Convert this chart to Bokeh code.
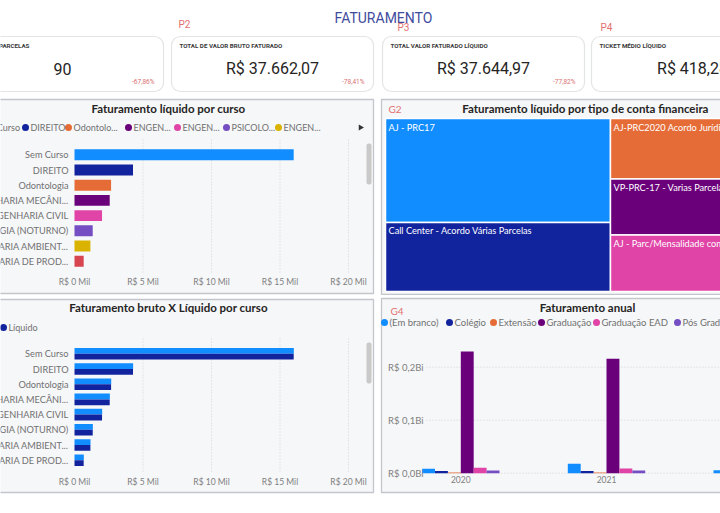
from bokeh.plotting import figure
from bokeh.layouts import column, row
from bokeh.models import Range1d, LinearAxis, FixedTicker, CustomJSTickFormatter, BoxAnnotation
from bokeh.core.properties import value
from bokeh.embed import file_html
from bokeh.resources import INLINE
import math

# ---------------- data ----------------
kpi_labels = ["TOTAL DE PARCELAS", "TOTAL DE VALOR BRUTO FATURADO",
              "TOTAL VALOR FATURADO LÍQUIDO", "TICKET MÉDIO LÍQUIDO"]
kpi_values = ["90", "R$ 37.662,07", "R$ 37.644,97", "R$ 418,28"]
kpi_deltas = ["-67,86%", "-78,41%", "-77,82%", ""]

cursos = ["Sem Curso", "DIREITO", "Odontologia", "ENGENHARIA MECÂNI...",
          "ENGENHARIA CIVIL", "PSICOLOGIA (NOTURNO)", "ENGENHARIA AMBIENT...",
          "ENGENHARIA DE PROD..."]
liquido_mil = [16.0, 4.27, 2.67, 2.57, 2.01, 1.33, 1.16, 0.67]
bruto_mil = [16.01, 4.28, 2.68, 2.58, 2.02, 1.34, 1.17, 0.68]
legend1_labels = ["Sem Curso", "DIREITO", "Odontolo...", "ENGEN...", "ENGEN...",
                  "PSICOLO...", "ENGEN..."]
x_ticks_mil = [0, 5, 10, 15, 20]

contas = ["AJ - PRC17", "Call Center - Acordo Várias Parcelas",
          "AJ-PRC2020 Acordo Jurídico", "VP-PRC-17 - Varias Parcelas",
          "AJ - Parc/Mensalidade com"]
contas_valor = [12694, 8425, 5782, 5349, 5395]

anos = ["2020", "2021", "2022"]
segmentos = ["(Em branco)", "Colégio", "Extensão", "Graduação", "Graduação EAD", "Pós Graduação"]
em_branco = [8.3, 17.7, 5.7]      # R$ milhões
colegio = [4.0, 4.0, 3.0]
extensao = [1.5, 1.5, 1.0]
graduacao = [229.6, 215.8, 190.0]
graduacao_ead = [10.2, 8.9, 7.0]
pos_graduacao = [5.1, 5.1, 4.0]
y_ticks_mi = [0, 100, 200]

# ---------------- style ----------------
C_BLUE, C_NAVY, C_ORANGE, C_PURPLE = "#118DFF", "#12239E", "#E66C37", "#6B007B"
C_PINK, C_VIOLET, C_YELLOW, C_RED = "#E044A7", "#744EC2", "#D9B300", "#D64550"
curso_colors = [C_BLUE, C_NAVY, C_ORANGE, C_PURPLE, C_PINK, C_VIOLET, C_YELLOW, C_RED]
seg_colors = [C_BLUE, C_NAVY, C_ORANGE, C_PURPLE, C_PINK, C_VIOLET]
conta_colors = [C_BLUE, C_NAVY, C_ORANGE, C_PURPLE, C_PINK]
FONT = "Lato"
PANEL_BG = "#F6F7F9"
PANEL_LINE = "#C2C5CB"
TITLE_C = "#252423"
LABEL_C = "#707070"
TAG_C = "#E2706F"


def base_fig(w, h, xr, yr):
    p = figure(width=w, height=h, x_range=Range1d(*xr), y_range=Range1d(*yr),
               x_axis_type=None, y_axis_type=None, toolbar_location=None,
               output_backend="svg", min_border=0, title=None)
    p.outline_line_color = None
    p.background_fill_color = "white"
    p.border_fill_color = "white"
    return p


def txt(p, x, y, s, size, color, align="left", baseline="middle", font=FONT, style="normal"):
    p.text(x=[x], y=[y], text=[s], text_font=value(font), text_font_size=value(size),
           text_color=color, text_align=align, text_baseline=baseline,
           text_font_style=style)


def style_axis(ax, size, standoff):
    ax.axis_line_color = None
    ax.major_tick_line_color = None
    ax.minor_tick_line_color = None
    ax.major_tick_out = 0
    ax.major_tick_in = 0
    ax.major_label_text_font = FONT
    ax.major_label_text_font_size = size
    ax.major_label_text_color = "#808080"
    ax.major_label_standoff = standoff


# ---------------- header ----------------
ph = base_fig(720, 95, (0, 720), (95, 0))
txt(ph, 383, 17, "FATURAMENTO", "14px", "#3F4C9E", align="center", font="Roboto")
for lab, (tx, ty) in zip(["P2", "P3", "P4"], [(178, 24), (397, 27), (600, 27)]):
    txt(ph, tx, ty, lab, "10px", TAG_C, font="Roboto")
card_left = [-39, 171, 382, 591]
card_w = 202
for i in range(4):
    l = card_left[i]
    r = l + card_w
    ph.add_layout(BoxAnnotation(left=l, right=r, top=36, bottom=91, fill_color="white",
                                fill_alpha=1, line_color="#A3A7AD", line_width=1.2,
                                border_radius=9, level="underlay"))
    txt(ph, l + 8, 45, kpi_labels[i], "6.2px", "#3A3A3A", font="Roboto", style="bold")
    txt(ph, (l + r) / 2, 68, kpi_values[i], "16px", TITLE_C, align="center", font="Roboto")
    if kpi_deltas[i]:
        txt(ph, r - 9, 81, kpi_deltas[i], "6.5px", "#D9706F", align="right", font="Roboto")


# ---------------- panels 1 and 3: bars by course ----------------
def f1x(px): return (px - 74) / 13.7
def f1y(py): return (py - 154.3) / 15.2
def f3y(py): return (py - 353.3) / 15.2


def bar_panel(fx, fy, top_ref, bottom_ref, height, title, title_y, grid_top, axis_y, scroll):
    p = base_fig(378, height, (fx(0), fx(378)), (fy(top_ref + height), fy(top_ref)))
    p.quad(left=[fx(-37)], right=[fx(373)], top=[fy(top_ref + 4)], bottom=[fy(bottom_ref)],
           fill_color=PANEL_BG, line_color=PANEL_LINE, line_width=1.3)
    txt(p, fx(168), fy(title_y), title, "11.5px", TITLE_C, align="center", style="bold")
    p.segment(x0=x_ticks_mil[1:], x1=x_ticks_mil[1:], y0=fy(grid_top), y1=fy(axis_y),
              line_color="#D2D2D2", line_dash="1 2", line_width=1)
    p.add_layout(BoxAnnotation(left=fx(366), right=fx(371), top=fy(scroll[0]), bottom=fy(scroll[1]),
                               fill_color="#C9C9C9", fill_alpha=1, line_color=None,
                               border_radius=2))
    ax = LinearAxis(fixed_location=fy(axis_y), ticker=FixedTicker(ticks=x_ticks_mil),
                    formatter=CustomJSTickFormatter(code='return "R$ " + tick + " Mil"'))
    style_axis(ax, "8.5px", 4)
    p.add_layout(ax, "below")
    idx = list(range(len(cursos)))
    p.text(x=[fx(68)] * len(cursos), y=idx, text=cursos, text_font=value(FONT),
           text_font_size=value("9.2px"), text_color=LABEL_C, text_align="right",
           text_baseline="middle")
    return p, idx


p1, idx1 = bar_panel(f1x, f1y, 95, 293, 200, "Faturamento líquido por curso", 108, 139, 272, (143, 184))
p1.hbar(y=idx1, left=0, right=liquido_mil, height=0.72, fill_color=curso_colors, line_color=None)
leg1_px = [-28, 25, 68, 128, 177, 226, 278]
p1.scatter(x=[f1x(v) for v in leg1_px], y=[f1y(127)] * len(leg1_px), size=7,
           color=curso_colors[:len(leg1_px)], line_color=None)
p1.text(x=[f1x(v + 5) for v in leg1_px], y=[f1y(127)] * len(leg1_px), text=legend1_labels,
        text_font=value(FONT), text_font_size=value("9px"), text_color=LABEL_C,
        text_baseline="middle")
p1.scatter(x=[f1x(360)], y=[f1y(127)], marker="triangle", size=6, angle=-math.pi / 2,
           color="#333333", line_color=None)

p3, idx3 = bar_panel(f1x, f3y, 295, 492, 218, "Faturamento bruto X Líquido por curso", 307, 338, 472, (342, 383))
p3.hbar(y=[i - 0.19 for i in idx3], left=0, right=bruto_mil, height=0.38, fill_color=C_BLUE, line_color=None)
p3.hbar(y=[i + 0.19 for i in idx3], left=0, right=liquido_mil, height=0.38, fill_color=C_NAVY, line_color=None)
leg3_px = [-38, 3]
p3.scatter(x=[f1x(v) for v in leg3_px], y=[f3y(327)] * 2, size=7, color=[C_BLUE, C_NAVY], line_color=None)
p3.text(x=[f1x(v + 5) for v in leg3_px], y=[f3y(327)] * 2, text=["Bruto", "Líquido"],
        text_font=value(FONT), text_font_size=value("9px"), text_color=LABEL_C, text_baseline="middle")


# ---------------- panel 2: treemap ----------------
def f2x(px): return (px - 385) / 401
def f2y(py): return (py - 118) / 173


p2 = base_fig(342, 200, (f2x(378), f2x(720)), (f2y(295), f2y(95)))
p2.quad(left=[f2x(381)], right=[f2x(789)], top=[f2y(99)], bottom=[f2y(294)],
        fill_color=PANEL_BG, line_color=PANEL_LINE, line_width=1.3)
txt(p2, f2x(585), f2y(108), "Faturamento líquido por tipo de conta financeira", "11.5px", TITLE_C,
    align="center", style="bold")
txt(p2, f2x(388), f2y(108), "G2", "10px", TAG_C)
total = sum(contas_valor)
left_sum = sum(contas_valor[:2])
split = left_sum / total
tl, tr, tt, tb = [], [], [], []
acc = 0.0
for v in contas_valor[:2]:
    tl.append(0.0); tr.append(split); tt.append(acc); acc += v / left_sum; tb.append(acc)
acc = 0.0
right_sum = total - left_sum
for v in contas_valor[2:]:
    tl.append(split); tr.append(1.0); tt.append(acc); acc += v / right_sum; tb.append(acc)
p2.quad(left=tl, right=tr, top=tt, bottom=tb, fill_color=conta_colors, line_color="white", line_width=1.5)
p2.text(x=tl, y=tt, text=contas, x_offset=3, y_offset=3, text_font=value(FONT),
        text_font_size=value("9.2px"), text_color="white", text_baseline="top")


# ---------------- panel 4: Faturamento anual ----------------
def f4x(px): return (px - 460.3) / 145.7
def f4y(py): return (472.7 - py) / 0.53


p4 = base_fig(342, 218, (f4x(378), f4x(720)), (f4y(513), f4y(295)))
p4.quad(left=[f4x(381)], right=[f4x(793)], top=[f4y(298)], bottom=[f4y(492)],
        fill_color=PANEL_BG, line_color=PANEL_LINE, line_width=1.3)
txt(p4, f4x(587), f4y(307), "Faturamento anual", "11.5px", TITLE_C, align="center", style="bold")
txt(p4, f4x(390), f4y(310), "G4", "10px", TAG_C)
p4.segment(x0=[f4x(426)] * 3, x1=[f4x(800)] * 3, y0=y_ticks_mi, y1=y_ticks_mi,
           line_color="#D2D2D2", line_dash="1 2", line_width=1)
series = [em_branco, colegio, extensao, graduacao, graduacao_ead, pos_graduacao]
bw = 12.9 / 145.7
for j, vals in enumerate(series):
    p4.vbar(x=[k + (j - 2.5) * bw for k in range(len(anos))], bottom=0, top=vals, width=bw,
            fill_color=seg_colors[j], line_color=None)
leg4_px = [384, 449, 493, 541, 596, 677]
p4.scatter(x=[f4x(v) for v in leg4_px], y=[f4y(322)] * 6, size=7, color=seg_colors, line_color=None)
p4.text(x=[f4x(v + 5) for v in leg4_px], y=[f4y(322)] * 6, text=segmentos, text_font=value(FONT),
        text_font_size=value("9.5px"), text_color=LABEL_C, text_baseline="middle")
ay = LinearAxis(fixed_location=f4x(426), ticker=FixedTicker(ticks=y_ticks_mi),
                formatter=CustomJSTickFormatter(
                    code='return "R$ " + (tick/1000).toFixed(1).replace(".", ",") + "Bi"'))
style_axis(ay, "9.5px", 3)
p4.add_layout(ay, "left")
axx = LinearAxis(fixed_location=0, ticker=FixedTicker(ticks=[0, 1, 2]),
                 formatter=CustomJSTickFormatter(args=dict(anos=anos),
                                                 code="return anos[Math.round(tick)]"))
style_axis(axx, "8.5px", 3)
p4.add_layout(axx, "below")

layout = column(ph, row(p1, p2), row(p3, p4))
open("out.html", "w").write(file_html(layout, INLINE))
